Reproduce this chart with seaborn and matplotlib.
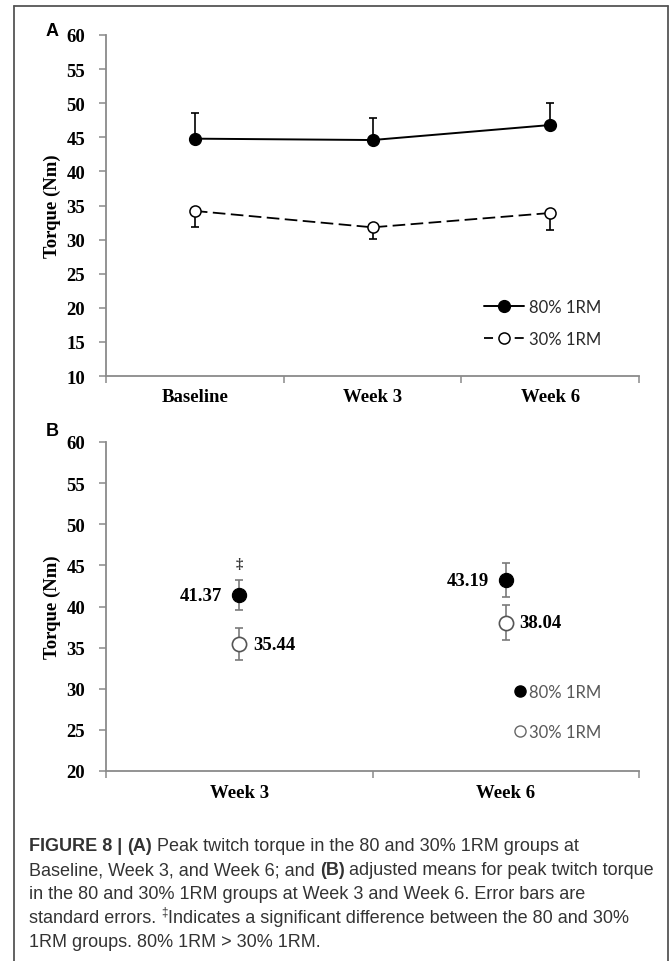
import numpy as np
import pandas as pd
import matplotlib
matplotlib.use("Agg")
import matplotlib.pyplot as plt
from matplotlib.lines import Line2D
import seaborn as sns

# ---- data -------------------------------------------------------------
timepoints = ["Baseline", "Week 3", "Week 6"]
torque_80 = [44.8, 44.6, 46.8]
se_80 = [3.7, 3.3, 3.3]
torque_30 = [34.2, 31.8, 33.9]
se_30 = [2.4, 1.7, 2.5]

weeks = ["Week 3", "Week 6"]
adj_80 = [41.37, 43.19]
adj_se_80 = [1.85, 2.05]
adj_30 = [35.44, 38.04]
adj_se_30 = [1.95, 2.1]
sig_marks = ["‡", ""]

groups = ["80% 1RM", "30% 1RM"]
ylim_a = (10, 60)
ylim_b = (20, 60)

caption_lines = [
    [("FIGURE 8 | ", "bold"), ("(A)", "bold"),
     (" Peak twitch torque in the 80 and 30% 1RM groups at", "normal")],
    [("Baseline, Week 3, and Week 6; and ", "normal"), ("(B)", "bold"),
     (" adjusted means for peak twitch torque", "normal")],
    [("in the 80 and 30% 1RM groups at Week 3 and Week 6. Error bars are", "normal")],
    [("standard errors. ", "normal"), ("‡", "sup"),
     ("Indicates a significant difference between the 80 and 30%", "normal")],
    [("1RM groups. 80% 1RM > 30% 1RM.", "normal")],
]

# ---- figure setup ----------------------------------------------------
sns.set_theme(style="white")
plt.rcParams["font.family"] = ["Liberation Serif", "DejaVu Serif"]

W, H = 670, 962
fig = plt.figure(figsize=(W / 100, H / 100), dpi=100)
fig.patch.set_facecolor("white")


def fx(px):
    return px / W


def fy(py):
    return 1 - py / H


AXIS_GREY = "#8a8a8a"
SERIF = ["Liberation Serif", "DejaVu Serif"]
LEG_FONT = ["Lato", "DejaVu Sans"]
TICK_SIZE = 13.5


def style_axes(ax, ylim, cats):
    ax.set_facecolor("white")
    for s in ("top", "right"):
        ax.spines[s].set_visible(False)
    for s in ("left", "bottom"):
        ax.spines[s].set_color(AXIS_GREY)
        ax.spines[s].set_linewidth(1.3)
    ax.set_ylim(*ylim)
    ax.set_yticks(np.arange(ylim[0], ylim[1] + 1, 5))
    n = len(cats)
    ax.set_xlim(-0.5, n - 0.5)
    ax.set_xticks(range(n))
    ax.set_xticklabels(cats)
    ax.set_xticks(np.arange(-0.5, n, 1.0), minor=True)
    ax.tick_params(axis="x", which="major", length=0, pad=9)
    ax.tick_params(axis="x", which="minor", length=5, width=1.1,
                   color=AXIS_GREY, direction="out", bottom=True)
    ax.tick_params(axis="y", which="major", length=5, width=1.1,
                   color=AXIS_GREY, direction="out", left=True, pad=10)
    for lab in ax.get_xticklabels() + ax.get_yticklabels():
        lab.set_family(SERIF)
        lab.set_fontweight("bold")
        lab.set_fontsize(TICK_SIZE)
        lab.set_color("black")
    ax.set_xlabel("")
    ax.set_ylabel("")


# ---- panel A ----------------------------------------------------------
axA = fig.add_axes([fx(106), fy(377), (639 - 106) / W, (377 - 36) / H])
xa = np.arange(len(timepoints))
dfA = pd.DataFrame({
    "pos": np.concatenate([xa, xa]),
    "torque": torque_80 + torque_30,
    "group": [groups[0]] * len(xa) + [groups[1]] * len(xa),
})

axA.errorbar(xa, torque_80, yerr=[np.zeros(len(xa)), se_80], fmt="none",
             ecolor="black", elinewidth=1.2, capsize=3, capthick=1.2, zorder=1)
axA.errorbar(xa, torque_30, yerr=[se_30, np.zeros(len(xa))], fmt="none",
             ecolor="black", elinewidth=1.2, capsize=3, capthick=1.2, zorder=1)

sns.lineplot(data=dfA[dfA.group == groups[0]], x="pos", y="torque", ax=axA,
             color="black", linewidth=1.4, marker="o", markersize=8.5,
             markerfacecolor="black", markeredgecolor="black",
             markeredgewidth=1.0, errorbar=None, sort=False, legend=False,
             zorder=3)
sns.lineplot(data=dfA[dfA.group == groups[1]], x="pos", y="torque", ax=axA,
             color="black", linewidth=1.3, marker="o", markersize=8,
             markerfacecolor="white", markeredgecolor="black",
             markeredgewidth=1.1, dashes=(7, 3), errorbar=None, sort=False,
             legend=False, zorder=3)
style_axes(axA, ylim_a, timepoints)

handlesA = [
    Line2D([], [], color="black", lw=1.4, marker="o", ms=8.5,
           mfc="black", mec="black"),
    Line2D([], [], color="black", lw=1.3, ls=(0, (5, 3.5)), marker="o", ms=8,
           mfc="white", mec="black", mew=1.1),
]
legA = axA.legend(handlesA, groups, loc="upper left", frameon=False,
                  bbox_to_anchor=(fx(484), fy(300)),
                  bbox_transform=fig.transFigure, borderpad=0,
                  borderaxespad=0, handlelength=2.4, handletextpad=0.3,
                  labelspacing=0.95, prop={"family": LEG_FONT, "size": 12})
for t in legA.get_texts():
    t.set_color("#2a2a2a")

# ---- panel B ----------------------------------------------------------
axB = fig.add_axes([fx(106), fy(772), (639 - 106) / W, (772 - 443) / H])
xb = np.arange(len(weeks))
dfB = pd.DataFrame({
    "pos": np.concatenate([xb, xb]),
    "torque": adj_80 + adj_30,
    "group": [groups[0]] * len(xb) + [groups[1]] * len(xb),
})

axB.errorbar(xb, adj_80, yerr=adj_se_80, fmt="none", ecolor="#7a7a7a",
             elinewidth=1.2, capsize=2.6, capthick=1.2, zorder=1)
axB.errorbar(xb, adj_30, yerr=adj_se_30, fmt="none", ecolor="#7a7a7a",
             elinewidth=1.2, capsize=2.6, capthick=1.2, zorder=1)
sns.scatterplot(data=dfB[dfB.group == groups[0]], x="pos", y="torque", ax=axB,
                s=105, color="black", edgecolor="black", linewidth=0.8,
                legend=False, zorder=3)
sns.scatterplot(data=dfB[dfB.group == groups[1]], x="pos", y="torque", ax=axB,
                s=105, color="white", edgecolor="#555555", linewidth=1.2,
                legend=False, zorder=3)
style_axes(axB, ylim_b, weeks)

for i, (v80, v30) in enumerate(zip(adj_80, adj_30)):
    axB.annotate(f"{v80:.2f}", (xb[i], v80), xytext=(-12, 0),
                 textcoords="offset points", ha="right", va="center",
                 family=SERIF, fontweight="bold", fontsize=TICK_SIZE,
                 color="black")
    axB.annotate(f"{v30:.2f}", (xb[i], v30), xytext=(10, 0),
                 textcoords="offset points", ha="left", va="center",
                 family=SERIF, fontweight="bold", fontsize=TICK_SIZE,
                 color="black")
    if sig_marks[i]:
        axB.annotate(sig_marks[i], (xb[i], v80 + adj_se_80[i]),
                     xytext=(0, 12), textcoords="offset points",
                     ha="center", va="center", family=SERIF,
                     fontsize=10.5, fontweight="bold", color="#333333")

handlesB = [
    Line2D([], [], ls="none", marker="o", ms=8, mfc="black", mec="black"),
    Line2D([], [], ls="none", marker="o", ms=8, mfc="white", mec="#666666"),
]
legB = axB.legend(handlesB, groups, loc="upper left", frameon=False,
                  bbox_to_anchor=(fx(515), fy(685)),
                  bbox_transform=fig.transFigure, borderpad=0,
                  borderaxespad=0, handlelength=0.6, handletextpad=0.25,
                  labelspacing=1.45, prop={"family": LEG_FONT, "size": 12})
for t in legB.get_texts():
    t.set_color("#595959")

# ---- y labels and panel letters --------------------------------------
for yc in (206.5, 607.5):
    fig.text(fx(52), fy(yc), "Torque (Nm)", rotation=90, ha="center",
             va="center", family=SERIF, fontweight="bold",
             fontsize=TICK_SIZE, color="black")
for letter, (px, py) in zip(["A", "B"], [(52, 32), (52, 432)]):
    fig.text(fx(px), fy(py), letter, ha="center", va="center",
             family=["Liberation Sans", "DejaVu Sans"], fontweight="bold",
             fontsize=13, color="black")

# ---- frame ------------------------------------------------------------
frame_kw = dict(color="#555555", lw=1.3, transform=fig.transFigure)
fig.add_artist(Line2D([fx(14), fx(668)], [fy(7), fy(7)], **frame_kw))
fig.add_artist(Line2D([fx(14), fx(14)], [fy(7), fy(963)], **frame_kw))
fig.add_artist(Line2D([fx(668), fx(668)], [fy(7), fy(963)], **frame_kw))

# ---- caption ----------------------------------------------------------
fig.canvas.draw()
renderer = fig.canvas.get_renderer()
CAP_FONT = ["Liberation Sans", "DejaVu Sans"]
CAP_SIZE = 13
CAP_COLOR = "#333333"
x0, y_first, line_gap = 29, 847, 24
for li, runs in enumerate(caption_lines):
    x = x0
    yc = y_first + li * line_gap
    for text, kind in runs:
        if kind == "sup":
            t = fig.text(fx(x), fy(yc - 6), text, ha="left", va="center",
                         family=CAP_FONT, fontsize=8.5, color=CAP_COLOR)
        else:
            t = fig.text(fx(x), fy(yc), text, ha="left", va="center",
                         family=CAP_FONT, fontsize=CAP_SIZE,
                         fontweight=kind, color=CAP_COLOR)
        bb = t.get_window_extent(renderer)
        x += bb.width

fig.savefig("out.png", dpi=100, facecolor="white")
